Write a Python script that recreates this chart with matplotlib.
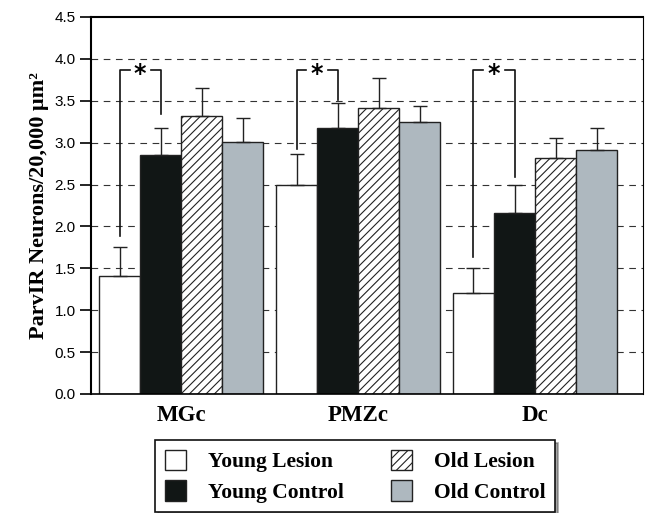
import numpy as np
import matplotlib.pyplot as plt

regions = ['MGc', 'PMZc', 'Dc']
groups = ['Young Lesion', 'Young Control', 'Old Lesion', 'Old Control']
means = {
    'Young Lesion': [1.41, 2.50, 1.20],
    'Young Control': [2.85, 3.18, 2.16],
    'Old Lesion': [3.32, 3.41, 2.82],
    'Old Control': [3.01, 3.25, 2.91],
}
errs = {
    'Young Lesion': [0.34, 0.37, 0.30],
    'Young Control': [0.33, 0.29, 0.33],
    'Old Lesion': [0.33, 0.36, 0.23],
    'Old Control': [0.28, 0.19, 0.27],
}
# significance brackets: bottom of left and right arms, shared top level
sig_left = [1.88, 2.93, 1.64]
sig_right = [3.34, 3.51, 2.59]
sig_top = 3.87

colors = {'Young Lesion': 'white', 'Young Control': '#111615',
          'Old Lesion': 'white', 'Old Control': '#aeb8bf'}
hatches = {'Young Lesion': None, 'Young Control': None,
           'Old Lesion': '////', 'Old Control': None}

plt.rcParams['hatch.linewidth'] = 0.8
serif = ['Liberation Serif', 'DejaVu Serif']

fig = plt.figure(figsize=(6.47, 5.13), dpi=100)
ax = fig.add_axes([0.1406, 0.232, 0.8532, 0.7349])

x = np.arange(len(regions))
w = 0.232
offsets = (np.arange(4) - 1.5) * w

for yv in np.arange(0.5, 4.5, 0.5):
    ax.axhline(yv, color='#333333', lw=0.8, ls=(0, (6, 5)), zorder=0)

handles = []
for i, g in enumerate(groups):
    b = ax.bar(x + offsets[i], means[g], w, color=colors[g], hatch=hatches[g],
               edgecolor='#222222', linewidth=1.0, zorder=2, label=g)
    ax.errorbar(x + offsets[i], means[g], yerr=[np.zeros(3), errs[g]], fmt='none',
                ecolor='#222222', elinewidth=1.0, capsize=5, capthick=1.0, zorder=3)
    handles.append(b)

for j in range(len(regions)):
    xl = x[j] + offsets[0]
    xr = x[j] + offsets[1]
    xm = (xl + xr) / 2
    gap = 0.06
    ax.plot([xl, xl, xm - gap], [sig_left[j], sig_top, sig_top], color='#111111', lw=1.2, zorder=4)
    ax.plot([xm + gap, xr, xr], [sig_top, sig_top, sig_right[j]], color='#111111', lw=1.2, zorder=4)
    ax.text(xm, sig_top - 0.05, '*', ha='center', va='center', fontsize=17, fontweight='bold',
            family='DejaVu Sans', zorder=5)

ax.set_xlim(-0.51, 2.61)
ax.set_ylim(0, 4.5)
ax.set_yticks(np.arange(0, 4.51, 0.5))
ax.set_yticklabels(['%.1f' % v for v in np.arange(0, 4.51, 0.5)],
                   family='Liberation Sans', fontsize=11)
ax.tick_params(axis='y', direction='out', length=8, width=1.2, pad=3)
ax.set_xticks(x)
ax.set_xticklabels(regions, family=serif, fontsize=16.5, fontweight='bold')
ax.tick_params(axis='x', length=0, pad=8)
ax.set_ylabel('ParvIR Neurons/20,000 \u03bcm\u00b2', family=serif, fontsize=16,
              fontweight='bold', labelpad=4)
for s in ['left', 'top']:
    ax.spines[s].set_linewidth(1.5)
ax.spines['bottom'].set_linewidth(1.2)
ax.spines['right'].set_linewidth(0.8)

leg = fig.legend(handles=handles, labels=groups, ncol=2, loc='upper left',
                 bbox_to_anchor=(155 / 647, 0, 400 / 647, 1 - 440 / 513), mode='expand',
                 prop={'family': serif, 'size': 15.5, 'weight': 'bold'},
                 frameon=True, fancybox=False, shadow=True, edgecolor='#111111',
                 handlelength=1.0, handleheight=1.1, columnspacing=0.2,
                 handletextpad=1.0, borderpad=0.45, borderaxespad=0, labelspacing=0.35)
leg.get_frame().set_linewidth(1.2)

fig.savefig('out.png', dpi=100)
